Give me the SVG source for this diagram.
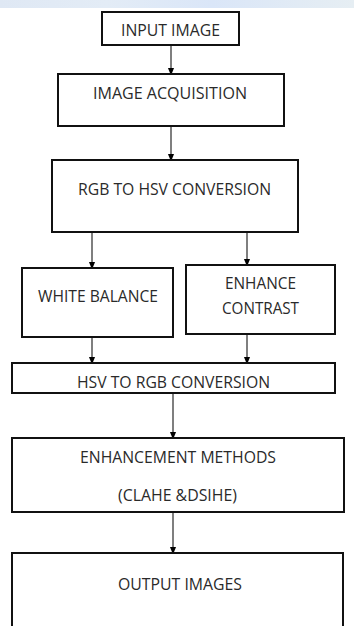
<svg xmlns="http://www.w3.org/2000/svg" width="354" height="626" viewBox="0 0 354 626">
<defs>
<linearGradient id="band" x1="0" y1="0" x2="1" y2="0">
<stop offset="0" stop-color="#dfe8f4"/>
<stop offset="0.3" stop-color="#e3ecf6"/>
<stop offset="0.6" stop-color="#dae6f8"/>
<stop offset="1" stop-color="#e6eef3"/>
</linearGradient>
<marker id="ah" markerWidth="8" markerHeight="10" refX="8" refY="4" orient="auto" markerUnits="userSpaceOnUse" viewBox="0 0 10 8">
<path d="M0,0 L10,4 L0,8 Z" fill="#000"/>
</marker>
<style>
.box{fill:#fff;stroke:#111;stroke-width:2}
.t{font-family:"Open Sans","Liberation Sans",sans-serif;font-size:16px;fill:#2a2a2a;text-anchor:middle}
.c{stroke:#555;stroke-width:1.5;fill:none;marker-end:url(#ah)}
</style>
</defs>
<rect x="0" y="0" width="354" height="8" fill="url(#band)"/>
<g id="connectors">
<line class="c" x1="171" y1="45" x2="171" y2="74"/>
<line class="c" x1="171" y1="126" x2="171" y2="160"/>
<line class="c" x1="92" y1="232" x2="92" y2="268"/>
<line class="c" x1="247" y1="232" x2="247" y2="265"/>
<line class="c" x1="92" y1="337" x2="92" y2="363"/>
<line class="c" x1="247" y1="334" x2="247" y2="363"/>
<line class="c" x1="173" y1="393" x2="173" y2="438"/>
<line class="c" x1="173" y1="512" x2="173" y2="553"/>
</g>
<g id="input-image">
<rect class="box" x="102" y="12" width="137" height="33"/>
<text class="t" x="170.5" y="36" textLength="99" lengthAdjust="spacingAndGlyphs">INPUT IMAGE</text>
</g>
<g id="image-acquisition">
<rect class="box" x="58" y="74" width="226" height="52"/>
<text class="t" x="170" y="99" textLength="154" lengthAdjust="spacingAndGlyphs">IMAGE  ACQUISITION</text>
</g>
<g id="rgb-to-hsv">
<rect class="box" x="52" y="160" width="246" height="72"/>
<text class="t" x="174.5" y="195" textLength="193" lengthAdjust="spacingAndGlyphs">RGB TO HSV CONVERSION</text>
</g>
<g id="white-balance">
<rect class="box" x="22" y="268" width="151" height="69"/>
<text class="t" x="98" y="302" textLength="120" lengthAdjust="spacingAndGlyphs">WHITE BALANCE</text>
</g>
<g id="enhance-contrast">
<rect class="box" x="186" y="265" width="149" height="69"/>
<text class="t" x="260.5" y="289" textLength="71" lengthAdjust="spacingAndGlyphs">ENHANCE</text>
<text class="t" x="260.5" y="314" textLength="77" lengthAdjust="spacingAndGlyphs">CONTRAST</text>
</g>
<g id="hsv-to-rgb">
<rect class="box" x="12" y="363" width="323" height="30"/>
<text class="t" x="173.5" y="388" textLength="193" lengthAdjust="spacingAndGlyphs">HSV TO RGB CONVERSION</text>
</g>
<g id="enhancement-methods">
<rect class="box" x="12" y="438" width="332" height="74"/>
<text class="t" x="178" y="463" textLength="196" lengthAdjust="spacingAndGlyphs">ENHANCEMENT METHODS</text>
<text class="t" x="177.5" y="501" textLength="119" lengthAdjust="spacingAndGlyphs">(CLAHE &amp;DSIHE)</text>
</g>
<g id="output-images">
<rect class="box" x="12" y="553" width="331" height="90"/>
<text class="t" x="180" y="590" textLength="124" lengthAdjust="spacingAndGlyphs">OUTPUT IMAGES</text>
</g>
</svg>
